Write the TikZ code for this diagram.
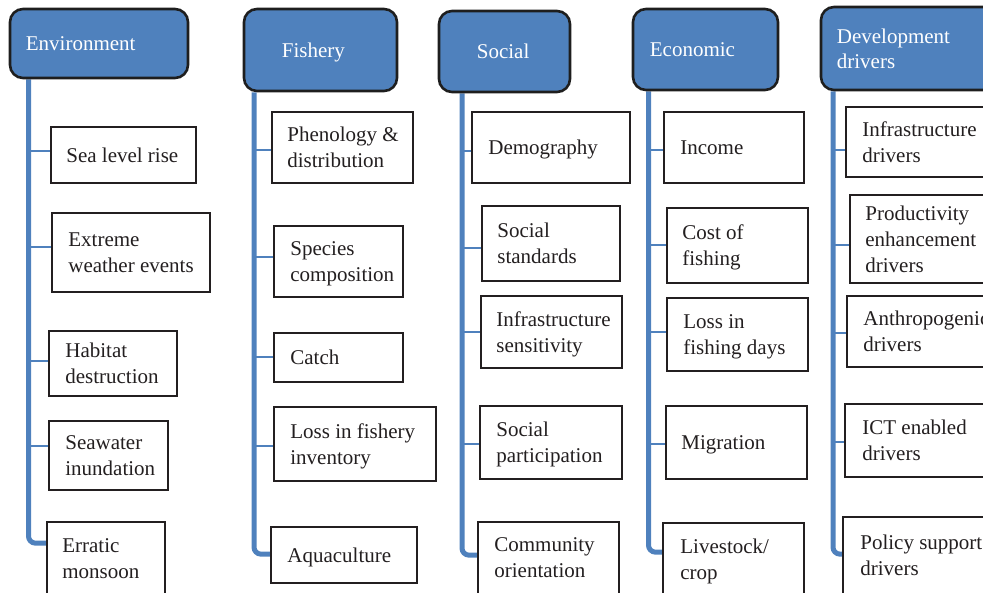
\documentclass[tikz,border=0pt]{standalone}
\usepackage{fontspec}
\setmainfont{Liberation Serif}
\usetikzlibrary{fit,calc,backgrounds}
\definecolor{hdrblue}{HTML}{4F81BD}
\definecolor{inkdark}{HTML}{231F20}
\definecolor{hdrline}{HTML}{1E1E1E}

\tikzset{
  hdr/.style={draw=hdrline, line width=2.6bp, fill=hdrblue, rounded corners=13bp, inner sep=0pt},
  hdrtext/.style={text=white, font=\fontsize{21bp}{25bp}\selectfont, align=left, anchor=west, inner sep=0pt},
  leaf/.style={draw=inkdark, line width=1.7bp, fill=white, inner sep=0pt},
  leaftext/.style={text=inkdark, font=\fontsize{21bp}{26bp}\selectfont, align=left, anchor=west, inner sep=0pt},
  % a last line with descenders pulls the text up; push it back down
  desc/.style={yshift=-2.3bp},
  trunk/.style={draw=hdrblue, line width=5bp, rounded corners=7bp},
  tick/.style={draw=hdrblue, line width=2.2bp},
}

% header: [text options] name, top-left, bottom-right, text inset, text
\newcommand\headbox[6][]{%
  \node[hdr, fit={(#3) (#4)}] (#2) {};
  \node[hdrtext,#1] (#2t) at ([xshift=#5bp]#2.west) {#6};
}
% leaf box: [text options] name, top-left, bottom-right, text inset, text
\newcommand\leafbox[6][]{%
  \node[leaf, fit={(#3) (#4)}] (#2) {};
  \node[leaftext,#1] (#2t) at ([xshift=#5bp]#2.west) {#6};
}
% leaf box running past the lower edge: name, top-left, bottom-right, text offset from top-left, text
\newcommand\leafboxlow[5]{%
  \node[leaf, fit={(#2) (#3)}] (#1) {};
  \node[leaftext] (#1t) at ($(#1.north west)+(#4)$) {#5};
}
% joint on a box's left side, given its depth below the box top
\newcommand\joint[2]{\coordinate (#1j) at ($(#1.north west)+(0,#2)$);}

\begin{document}
\begin{tikzpicture}[x=1bp, y=-1bp]
\useasboundingbox (0,0) rectangle (983,593);
\clip (0,0) rectangle (983,593);

% column headers
\headbox{env}{10,9}{188,78}{17}{Environment}
\headbox[desc]{fish}{244,9}{397,91}{39}{Fishery}
\headbox{soc}{439,11}{570,92}{39}{Social}
\headbox{eco}{633,9}{778,90}{18}{Economic}
\headbox{dev}{821,7}{1000,90}{17}{Development\\drivers}

% trunk positions
\coordinate (envx) at (28.5,0);
\coordinate (fishx) at (254,0);
\coordinate (socx) at (462,0);
\coordinate (ecox) at (648.5,0);
\coordinate (devx) at (833,0);

% Environment
\leafbox{e1}{51,127}{196,183}{16}{Sea level rise}
\leafbox{e2}{52,213}{210,292}{17}{Extreme\\weather events}
\leafbox{e3}{49,331}{177,396}{17}{Habitat\\destruction}
\leafbox{e4}{49,421}{168,490}{17}{Seawater\\inundation}
\leafboxlow{e5}{47,522}{165,640}{16,37}{Erratic\\monsoon}

% Fishery
\leafbox{f1}{272,112}{413,183}{16}{Phenology \&\\distribution}
\leafbox[desc]{f2}{274,226}{403,297}{17}{Species\\composition}
\leafbox{f3}{274,333}{403,382}{17}{Catch}
\leafbox[desc]{f4}{274,407}{436,481}{17}{Loss in fishery\\inventory}
\leafbox[desc]{f5}{271,527}{417,583}{17}{Aquaculture}

% Social
\leafbox[desc]{s1}{472,112}{630,183}{17}{Demography}
\leafbox{s2}{482,206}{620,281}{16}{Social\\standards}
\leafbox[desc]{s3}{481,296}{622,368}{16}{Infrastructure\\sensitivity}
\leafbox[desc]{s4}{480,406}{622,479}{17}{Social\\participation}
\leafboxlow{s5}{478,522}{619,640}{17,36.5}{Community\\orientation}

% Economic
\leafbox{c1}{664,112}{804,183}{17}{Income}
\leafbox[desc]{c2}{667,208}{808,283}{16}{Cost of\\fishing}
\leafbox[desc]{c3}{667,298}{808,371}{17}{Loss in\\fishing days}
\leafbox[desc]{c4}{666,406}{807,479}{16}{Migration}
\leafboxlow{c5}{663,523}{804,640}{18,39}{Livestock/\\crop}

% Development drivers
\leafbox{d1}{846,107}{1000,177}{17}{Infrastructure\\drivers}
\leafbox{d2}{850,195}{1000,283}{16}{Productivity\\enhancement\\drivers}
\leafbox{d3}{847,296}{1000,367}{17}{Anthropogenic\\drivers}
\leafbox{d4}{845,404}{1000,477}{18}{ICT enabled\\drivers}
\leafboxlow{d5}{843,517}{1000,640}{18,39}{Policy support\\drivers}

% joints where connectors meet the boxes
\joint{e1}{25}\joint{e2}{35}\joint{e3}{31}\joint{e4}{26}\joint{e5}{22}
\joint{f1}{39}\joint{f2}{32}\joint{f3}{25}\joint{f4}{40}\joint{f5}{28}
\joint{s1}{40}\joint{s2}{43}\joint{s3}{37}\joint{s4}{39}\joint{s5}{34}
\joint{c1}{39}\joint{c2}{38}\joint{c3}{35}\joint{c4}{39}\joint{c5}{30}
\joint{d1}{44}\joint{d2}{51}\joint{d3}{38}\joint{d4}{39}\joint{d5}{38}

\begin{scope}[on background layer]
  \foreach \col/\last in {env/e5, fish/f5, soc/s5, eco/c5, dev/d5}{
    \draw[trunk] (\col.south -| \col x) |- (\last j);
  }
  \foreach \col/\p in {env/e, fish/f, soc/s, eco/c, dev/d}{
    \foreach \i in {1,2,3,4}{
      \draw[tick] (\col x |- \p\i j) -- (\p\i j);
    }
  }
\end{scope}
\end{tikzpicture}
\end{document}
